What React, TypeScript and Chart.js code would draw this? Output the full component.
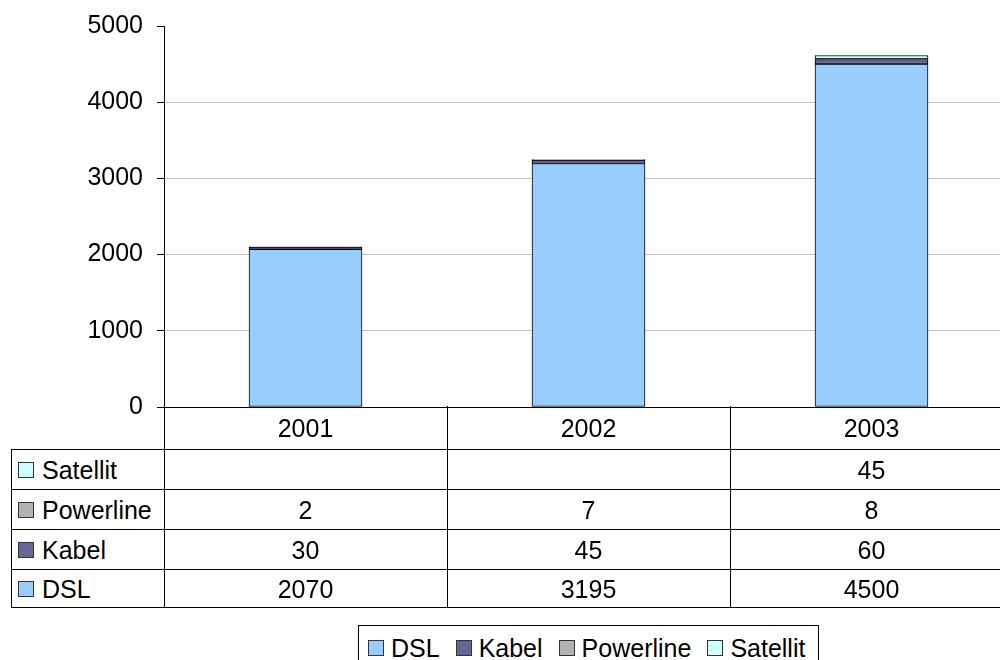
import React, { useEffect, useRef } from "react";
import { Chart, registerables } from "chart.js";

Chart.register(...registerables);

const categories = ["2001", "2002", "2003"];
const dslValues = [2070, 3195, 4500];
const kabelValues = [30, 45, 60];
const powerlineValues = [2, 7, 8];
const satellitValues: (number | null)[] = [null, null, 45];
const seriesNames = ["DSL", "Kabel", "Powerline", "Satellit"];
const seriesColors = ["#99CCFF", "#666699", "#B2B2B2", "#CCFFFF"];
const yMin = 0;
const yMax = 5000;
const yStep = 1000;

const seriesValues = [dslValues, kabelValues, powerlineValues, satellitValues];

const FONT = '"Liberation Sans", Arial, sans-serif';

// layout constants
const AXIS_X = 164;
const CANVAS_W = 1013;
const CANVAS_TOP = -3;
const CANVAS_H = 439;
const PAD_TOP = 21;
const PAD_BOTTOM = 14;
const PLOT_BOTTOM = 406;
const COL_W = (CANVAS_W - AXIS_X) / categories.length;
const BAR_W = 113;
const HEADER_BOTTOM = 449;
const ROW_BOUNDS = [449, 489, 529, 569, 607];
const LABEL_LEFT = 11;
const FS = 25;

export default function App() {
  const ref = useRef<HTMLCanvasElement>(null);

  useEffect(() => {
    if (!ref.current) return;
    const chart = new Chart(ref.current, {
      type: "bar",
      data: {
        labels: categories,
        datasets: seriesNames.map((name, i) => ({
          label: name,
          data: seriesValues[i] as any,
          backgroundColor: seriesColors[i],
          borderColor: "#000",
          borderWidth: 1,
          borderSkipped: false,
          barThickness: BAR_W,
        })),
      },
      options: {
        responsive: false,
        animation: false,
        layout: { padding: { top: PAD_TOP, bottom: PAD_BOTTOM, left: 0, right: 0 } },
        plugins: { legend: { display: false }, tooltip: { enabled: false } },
        scales: {
          x: { stacked: true, display: false },
          y: {
            stacked: true,
            min: yMin,
            max: yMax,
            ticks: {
              stepSize: yStep,
              color: "#000",
              font: { family: FONT, size: FS },
              padding: 14,
              callback: (v: any) => String(v),
            },
            grid: {
              color: (ctx: any) =>
                ctx.tick && ctx.tick.value === yMax
                  ? "rgba(0,0,0,0)"
                  : ctx.tick && ctx.tick.value === yMin
                  ? "#000"
                  : "#C0C0C0",
              tickColor: "#000",
              tickLength: 7,
              drawTicks: true,
            },
            border: { color: "#000", width: 1 },
            afterFit: (scale: any) => {
              scale.width = AXIS_X;
            },
          },
        },
      },
    } as any);
    return () => chart.destroy();
  }, []);

  const line = (x: number, y: number, w: number, h: number, key: string) => (
    <div key={key} style={{ position: "absolute", left: x, top: y, width: w, height: h, background: "#000" }} />
  );

  const rowOrder = [3, 2, 1, 0];
  const elems: React.ReactNode[] = [];
  const tableBottom = ROW_BOUNDS[ROW_BOUNDS.length - 1];

  ROW_BOUNDS.forEach((y, i) => elems.push(line(LABEL_LEFT, y, CANVAS_W - LABEL_LEFT, 1, "h" + i)));
  elems.push(line(LABEL_LEFT, HEADER_BOTTOM, 1, tableBottom - HEADER_BOTTOM + 1, "vl"));
  for (let c = 0; c < categories.length; c++) {
    const x = Math.round(AXIS_X + c * COL_W);
    elems.push(line(x, PLOT_BOTTOM, 1, tableBottom - PLOT_BOTTOM + 1, "v" + c));
  }
  categories.forEach((cat, c) => {
    elems.push(
      <div
        key={"hd" + c}
        style={{
          position: "absolute",
          left: AXIS_X + c * COL_W,
          width: COL_W,
          top: PLOT_BOTTOM,
          height: HEADER_BOTTOM - PLOT_BOTTOM,
          lineHeight: HEADER_BOTTOM - PLOT_BOTTOM + 1 + "px",
          textAlign: "center",
          fontSize: FS,
        }}
      >
        {cat}
      </div>
    );
  });
  rowOrder.forEach((si, r) => {
    const top = ROW_BOUNDS[r];
    const h = ROW_BOUNDS[r + 1] - top;
    elems.push(
      <div
        key={"lab" + r}
        style={{ position: "absolute", left: LABEL_LEFT + 7, top, height: h + 2, display: "flex", alignItems: "center" }}
      >
        <div style={{ width: 14, height: 14, border: "1px solid #333", background: seriesColors[si], marginRight: 8 }} />
        <span style={{ fontSize: FS }}>{seriesNames[si]}</span>
      </div>
    );
    categories.forEach((_, c) => {
      const v = seriesValues[si][c];
      elems.push(
        <div
          key={"cell" + r + "_" + c}
          style={{
            position: "absolute",
            left: AXIS_X + c * COL_W,
            width: COL_W,
            top,
            height: h,
            lineHeight: h + 2 + "px",
            textAlign: "center",
            fontSize: FS,
          }}
        >
          {v === null || v === undefined ? "" : String(v)}
        </div>
      );
    });
  });

  return (
    <div
      style={{
        position: "absolute",
        left: 0,
        top: 0,
        width: 1000,
        height: 660,
        overflow: "hidden",
        background: "#fff",
        fontFamily: FONT,
        color: "#000",
      }}
    >
      <canvas
        ref={ref}
        width={CANVAS_W}
        height={CANVAS_H}
        style={{ position: "absolute", left: 0, top: CANVAS_TOP }}
      />
      {elems}
      <div
        style={{
          position: "absolute",
          left: 358,
          top: 625,
          width: 461,
          height: 50,
          border: "1px solid #000",
          boxSizing: "border-box",
          display: "flex",
          alignItems: "flex-start",
          paddingLeft: 9,
          paddingTop: 9,
          fontSize: FS,
        }}
      >
        {seriesNames.map((name, i) => (
          <div key={name} style={{ display: "flex", alignItems: "center", marginRight: 16, lineHeight: "26px" }}>
            <div
              style={{ width: 14, height: 14, border: "1px solid #333", background: seriesColors[i], marginRight: 7 }}
            />
            <span>{name}</span>
          </div>
        ))}
      </div>
    </div>
  );
}
